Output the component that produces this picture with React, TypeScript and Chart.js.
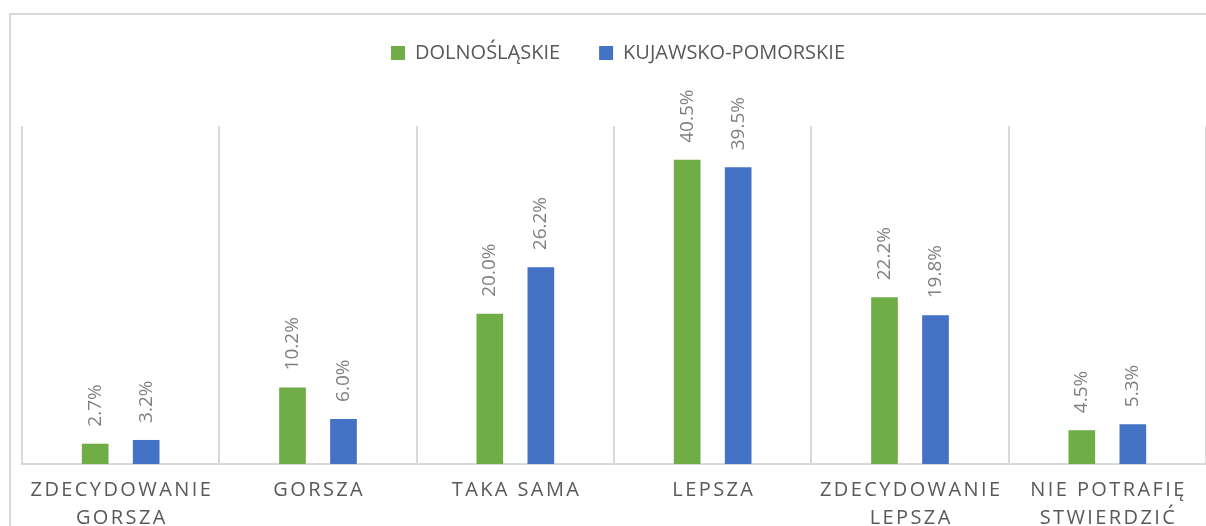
import React, { useEffect, useRef } from "react";
import { Chart, registerables } from "chart.js";

Chart.register(...registerables);

const categories: string[][] = [
  ["ZDECYDOWANIE", "GORSZA"],
  ["GORSZA"],
  ["TAKA SAMA"],
  ["LEPSZA"],
  ["ZDECYDOWANIE", "LEPSZA"],
  ["NIE POTRAFIĘ", "STWIERDZIĆ"],
];
const seriesNames = ["DOLNOŚLĄSKIE", "KUJAWSKO-POMORSKIE"];
const dolnoslaskie = [2.7, 10.2, 20.0, 40.5, 22.2, 4.5];
const kujawskoPomorskie = [3.2, 6.0, 26.2, 39.5, 19.8, 5.3];
const yMax = 45;

const GREEN = "#70ad47";
const BLUE = "#4472c4";
const GRID = "#d9d9d9";
const FONT = "'Open Sans', 'Noto Sans', sans-serif";

const W = 1206;
const H = 526;
const PAD_TOP = 4;
const LEGEND_H = 122;
const LEGEND_SHIFT = 4;
const XAXIS_H = 62;

const layoutPatch = {
  id: "layoutPatch",
  beforeLayout(chart: any) {
    const lg = chart.legend;
    if (lg && !lg.__patched) {
      const orig = lg.fit.bind(lg);
      lg.fit = function () {
        orig();
        this.height = LEGEND_H;
      };
      lg.__patched = true;
    }
  },
  afterLayout(chart: any) {
    const lg = chart.legend;
    if (lg) {
      lg.left += LEGEND_SHIFT;
      lg.right += LEGEND_SHIFT;
    }
  },
  beforeDraw(chart: any) {
    const sx = chart.scales && chart.scales.x;
    if (sx && !sx.__patched) {
      const orig = sx.drawLabels.bind(sx);
      sx.drawLabels = function (area: any) {
        const ctx = chart.ctx;
        ctx.save();
        ctx.letterSpacing = "2.4px";
        ctx.translate(1.2, 0);
        orig(area);
        ctx.restore();
      };
      sx.__patched = true;
    }
  },
};

const valueLabels = {
  id: "valueLabels",
  afterDatasetsDraw(chart: any) {
    const ctx = chart.ctx;
    chart.data.datasets.forEach((ds: any, di: number) => {
      const meta = chart.getDatasetMeta(di);
      meta.data.forEach((bar: any, i: number) => {
        const v = ds.data[i];
        ctx.save();
        ctx.translate(bar.x, bar.y - 17);
        ctx.rotate(-Math.PI / 2);
        ctx.font = `19px ${FONT}`;
        ctx.fillStyle = "#7f7f7f";
        ctx.textAlign = "left";
        ctx.textBaseline = "middle";
        ctx.fillText(v.toFixed(1) + "%", 0, 0);
        ctx.restore();
      });
    });
  },
};

export default function App() {
  const ref = useRef<HTMLCanvasElement | null>(null);
  useEffect(() => {
    if (!ref.current) return;
    const chart = new Chart(ref.current, {
      type: "bar",
      data: {
        labels: categories,
        datasets: [
          {
            label: seriesNames[0],
            data: dolnoslaskie,
            backgroundColor: GREEN,
            categoryPercentage: 0.517,
            barPercentage: 0.523,
          },
          {
            label: seriesNames[1],
            data: kujawskoPomorskie,
            backgroundColor: BLUE,
            categoryPercentage: 0.517,
            barPercentage: 0.523,
          },
        ],
      },
      options: {
        responsive: false,
        animation: false,
        layout: { padding: { top: PAD_TOP, left: 22, right: 0, bottom: 0 } },
        plugins: {
          legend: {
            position: "top",
            labels: {
              boxWidth: 14,
              boxHeight: 14,
              padding: 39,
              color: "#595959",
              font: { family: FONT, size: 20 },
            },
          },
          tooltip: { enabled: false },
        },
        scales: {
          x: {
            afterFit: (s: any) => {
              s.height = XAXIS_H;
            },
            grid: {
              color: GRID,
              lineWidth: 2,
              drawTicks: false,
              offset: true,
            },
            border: { color: GRID, width: 2 },
            ticks: {
              color: "#595959",
              padding: 13,
              maxRotation: 0,
              autoSkip: false,
              font: { family: FONT, size: 20, lineHeight: 1.365 },
            },
          },
          y: {
            display: false,
            min: 0,
            max: yMax,
          },
        },
      },
      plugins: [layoutPatch, valueLabels],
    });
    return () => chart.destroy();
  }, []);

  return (
    <div
      style={{
        position: "fixed",
        left: 0,
        top: 0,
        width: W,
        height: H,
        overflow: "hidden",
        background: "#fff",
      }}
    >
      <div
        style={{
          position: "absolute",
          left: 9,
          top: 13,
          width: 1400,
          height: 800,
          border: `2px solid ${GRID}`,
        }}
      />
      <canvas
        ref={ref}
        width={W}
        height={H}
        style={{ position: "absolute", left: 0, top: 0 }}
      />
    </div>
  );
}
